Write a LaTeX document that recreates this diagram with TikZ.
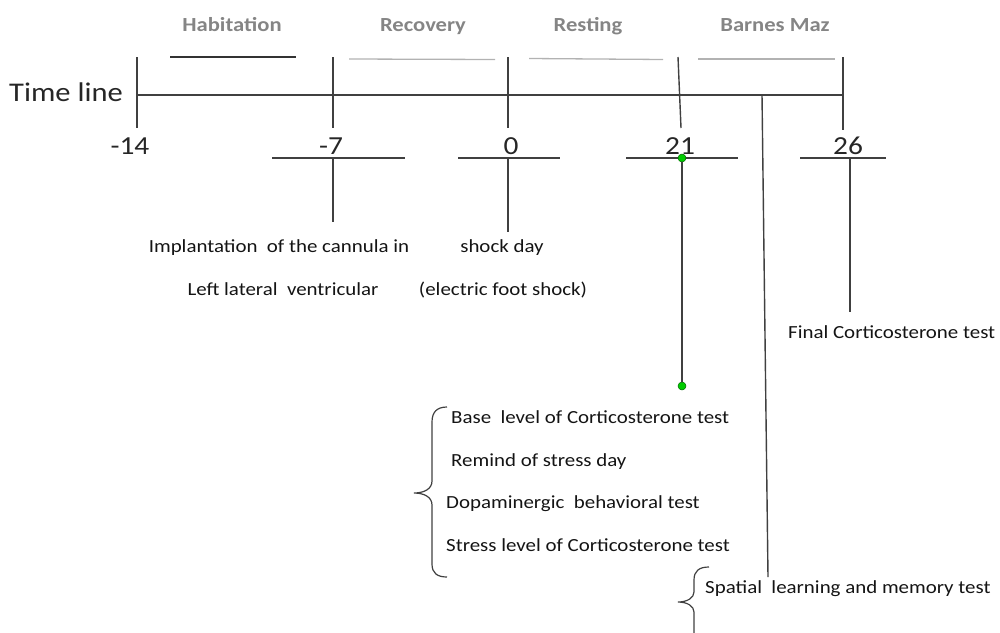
\documentclass[tikz,border=0pt]{standalone}
\usepackage{fontspec}
\setmainfont{Carlito}
\usepackage{graphicx}
\begin{document}
\begin{tikzpicture}[x=1pt,y=-1pt,
  ln/.style={draw=black!75, line width=1.4pt},
  phl/.style={draw=black!30, line width=1.3pt},
  phd/.style={draw=black!80, line width=1.4pt},
  phase/.style={text=black!48, font=\fontsize{20}{23}\selectfont\bfseries, inner sep=0pt, anchor=base},
  num/.style={text=black!85, font=\fontsize{26}{30}\selectfont, inner sep=0pt, anchor=base},
  small/.style={text=black!92, font=\fontsize{18.5}{21}\selectfont, inner sep=0pt, anchor=base},
  gdot/.style={circle, fill=green!80!black, draw=green!40!black, line width=0.5pt, inner sep=0pt, minimum size=8pt}
]
\useasboundingbox (0,0) rectangle (1000,632);
\newcommand{\sx}[1]{\scalebox{1.13}[1]{#1}}

% main timeline
\node[text=black!85, font=\fontsize{27}{30}\selectfont, inner sep=0pt, anchor=base] (tl) at (66,101) {\sx{Time line}};
\coordinate (m0) at (137,95);
\coordinate (m1) at (843,95);
\draw[ln] (m0) -- (m1);
% ticks
\coordinate (t1a) at (137,57); \coordinate (t1b) at (137,128);
\coordinate (t2a) at (333,57); \coordinate (t2b) at (333,128);
\coordinate (t3a) at (508,57); \coordinate (t3b) at (508,128);
\coordinate (t4a) at (678,57); \coordinate (t4b) at (681,128);
\coordinate (t5a) at (843,57); \coordinate (t5b) at (843,130);
\foreach \i in {1,...,5} \draw[ln] (t\i a) -- (t\i b);

% phase lines
\coordinate (p1a) at (170,57); \coordinate (p1b) at (296,57);
\draw[phd] (p1a) -- (p1b);
\coordinate (p2a) at (349,59); \coordinate (p2b) at (495,59.5);
\coordinate (p3a) at (529,58.5); \coordinate (p3b) at (663,59.5);
\coordinate (p4a) at (698,59); \coordinate (p4b) at (835,59);
\draw[phl] (p2a) -- (p2b);
\draw[phl] (p3a) -- (p3b);
\draw[phl] (p4a) -- (p4b);

% phase labels
\node[phase] (hab) at (232,31) {\sx{Habitation}};
\node[phase] (rec) at (423,31) {\sx{Recovery}};
\node[phase] (res) at (588,31) {\sx{Resting}};
\node[phase] (bar) at (775,31) {\sx{Barnes Maz}};

% day numbers
\node[num] (n14) at (130,154) {\sx{-14}};
\node[num] (n7) at (331,154) {\sx{-7}};
\node[num] (n0) at (511,154) {\sx{0}};
\node[num] (n21) at (680,154) {\sx{21}};
\node[num] (n26) at (848,154) {\sx{26}};

% lower bars
\coordinate (b2a) at (272,158); \coordinate (b2b) at (405,158);
\coordinate (b3a) at (458,158); \coordinate (b3b) at (560,158);
\coordinate (b4a) at (626,158); \coordinate (b4b) at (738,158);
\coordinate (b5a) at (800,158); \coordinate (b5b) at (886,158);
\foreach \i in {2,...,5} \draw[ln] (b\i a) -- (b\i b);

% stems
\coordinate (s2a) at (333,158); \coordinate (s2b) at (333,222);
\coordinate (s3a) at (508,158); \coordinate (s3b) at (508,232);
\coordinate (s5a) at (850,158); \coordinate (s5b) at (850,312);
\draw[ln] (s2a) -- (s2b);
\draw[ln] (s3a) -- (s3b);
\draw[ln] (s5a) -- (s5b);
\node[gdot] (g1) at (682,158) {};
\node[gdot] (g2) at (682,386) {};
\draw[ln] (g1) -- (g2);

% long line from timeline
\coordinate (la) at (762,95); \coordinate (lb) at (768,577);
\draw[ln] (la) -- (lb);

% texts
\node[small] (imp1) at (279,252) {\sx{Implantation\ \ of the cannula in}};
\node[small] (imp2) at (283,295) {\sx{Left lateral\ \ ventricular}};
\node[small] (sh1) at (502,252) {\sx{shock day}};
\node[small] (sh2) at (503,295) {\sx{(electric foot shock)}};
\node[small, anchor=base west] (fin) at (788,338) {\sx{Final Corticosterone test}};

\node[small, anchor=base west] (l1) at (451,423) {\sx{Base\ \ level of Corticosterone test}};
\node[small, anchor=base west] (l2) at (451,466) {\sx{Remind of stress day}};
\node[small, anchor=base west] (l3) at (446,508) {\sx{Dopaminergic\ \ behavioral test}};
\node[small, anchor=base west] (l4) at (446,551) {\sx{Stress level of Corticosterone test}};
\node[small, anchor=base west] (sp) at (705,593) {\sx{Spatial\ \ learning and memory test}};

% braces
\draw[ln, line width=1.2pt] (447,407) .. controls (437,407) and (432,412) .. (432,422) -- (432,481)
  .. controls (432,489) and (424,493) .. (414,493)
  .. controls (424,493) and (432,497) .. (432,505) -- (432,564)
  .. controls (432,573) and (437,577) .. (447,577);
\draw[ln, line width=1.2pt] (709,567) .. controls (699,567) and (694,571) .. (694,580) -- (694,592)
  .. controls (694,598) and (687,602) .. (678,602)
  .. controls (687,602) and (694,606) .. (694,612) -- (694,640);
\end{tikzpicture}
\end{document}
